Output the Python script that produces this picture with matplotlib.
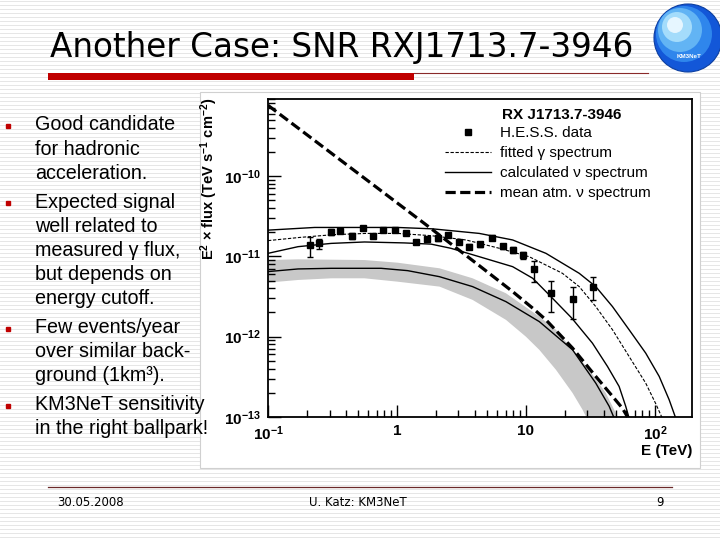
import numpy as np
import matplotlib
matplotlib.use('Agg')
import matplotlib.pyplot as plt
from matplotlib.lines import Line2D
from matplotlib.patches import Rectangle, Circle
from matplotlib.ticker import FixedLocator, FixedFormatter, LogLocator, NullFormatter

plt.rcParams['font.family'] = ['Liberation Sans', 'DejaVu Sans']
plt.rcParams['mathtext.fontset'] = 'custom'
plt.rcParams['mathtext.rm'] = 'Liberation Sans'
plt.rcParams['mathtext.bf'] = 'Liberation Sans:bold'
plt.rcParams['mathtext.default'] = 'regular'

# H.E.S.S. points (E in TeV, E^2 x flux)
hess_E = [0.21, 0.248, 0.309, 0.363, 0.447, 0.543, 0.65, 0.785, 0.96, 1.18, 1.41, 1.71, 2.07,
          2.48, 3.01, 3.64, 4.43, 5.42, 6.59, 7.98, 9.53, 11.6, 15.6, 23.0, 33.4]
hess_F = [1.38e-11, 1.45e-11, 2.02e-11, 2.07e-11, 1.81e-11, 2.23e-11, 1.81e-11, 2.12e-11, 2.12e-11,
          1.93e-11, 1.52e-11, 1.64e-11, 1.67e-11, 1.84e-11, 1.52e-11, 1.32e-11, 1.42e-11, 1.71e-11,
          1.34e-11, 1.20e-11, 1.04e-11, 6.9e-12, 3.47e-12, 2.92e-12, 4.2e-12]
hess_lo = [9.9e-12, 1.25e-11, 1.85e-11, 1.95e-11, 1.65e-11, 2.12e-11, 1.72e-11, 2.02e-11, 2.02e-11,
           1.84e-11, 1.42e-11, 1.54e-11, 1.55e-11, 1.72e-11, 1.42e-11, 1.22e-11, 1.32e-11, 1.6e-11,
           1.24e-11, 1.1e-11, 9.4e-12, 4.84e-12, 2.0e-12, 1.65e-12, 2.87e-12]
hess_hi = [1.75e-11, 1.65e-11, 2.2e-11, 2.2e-11, 1.97e-11, 2.35e-11, 1.9e-11, 2.22e-11, 2.22e-11,
           2.03e-11, 1.62e-11, 1.74e-11, 1.8e-11, 1.96e-11, 1.62e-11, 1.42e-11, 1.52e-11, 1.82e-11,
           1.44e-11, 1.3e-11, 1.14e-11, 8.8e-12, 4.94e-12, 4.2e-12, 5.48e-12]

# fitted gamma spectrum
fit_E = [0.1, 0.176, 0.318, 0.577, 1.01, 1.84, 3.43, 6.22, 10.6, 19.2, 25.9, 34.8, 46.9, 63.1,
         84.9, 101, 114]
fit_F = [1.57e-11, 1.72e-11, 1.86e-11, 1.93e-11, 1.93e-11, 1.81e-11, 1.60e-11, 1.26e-11, 9.9e-12,
         6.15e-12, 4.2e-12, 2.37e-12, 1.22e-12, 5.67e-13, 2.64e-13, 1.49e-13, 0.97e-13]

# calculated neutrino spectra (upper, middle, lower)
nu_hi_E = [0.1, 0.23, 1.01, 1.89, 4.35, 7.89, 14.3, 25.9, 34.8, 46.9, 63.1, 84.9, 108, 129, 145]
nu_hi_F = [2.12e-11, 2.29e-11, 2.29e-11, 2.2e-11, 1.93e-11, 1.60e-11, 1.09e-11, 6.15e-12, 4.2e-12,
           2.37e-12, 1.22e-12, 6.24e-13, 3.2e-13, 1.64e-13, 0.97e-13]
nu_mid_E = [0.1, 0.171, 0.309, 0.56, 1.14, 1.84, 2.62, 4.35, 7.89, 11.3, 15.6, 22.7, 32.8, 42.9,
            52.8, 59.4, 63.1]
nu_mid_F = [1.09e-11, 1.32e-11, 1.45e-11, 1.51e-11, 1.47e-11, 1.42e-11, 1.26e-11, 9.9e-12, 7.44e-12,
            5.33e-12, 3.16e-12, 1.70e-12, 8.3e-13, 4.26e-13, 2.40e-13, 1.36e-13, 0.97e-13]
nu_lo_E = [0.1, 0.171, 0.309, 0.753, 1.21, 2.13, 3.86, 7.0, 12.7, 23.0, 34.8, 44.2, 48.3]
nu_lo_F = [6.46e-12, 6.97e-12, 7.1e-12, 7.1e-12, 6.64e-12, 5.59e-12, 4.2e-12, 2.73e-12, 1.54e-12,
           6.86e-13, 2.64e-13, 1.36e-13, 0.97e-13]

# uncertainty band around lower spectrum
band_top_E = [0.1, 0.171, 0.56, 1.01, 2.14, 3.86, 7.0, 12.7, 17.1, 23.0, 30.9, 41.6, 49.8, 52.8]
band_top_F = [9.0e-12, 9.18e-12, 9.0e-12, 8.34e-12, 7.1e-12, 5.33e-12, 3.47e-12, 1.78e-12, 1.22e-12,
              6.86e-13, 3.87e-13, 1.99e-13, 1.12e-13, 0.93e-13]
band_bot_E = [0.1, 0.171, 0.309, 0.56, 1.01, 2.14, 3.86, 7.0, 10.0, 12.7, 17.1, 23.0, 27.5, 30.0]
band_bot_F = [4.71e-12, 5.08e-12, 5.33e-12, 5.33e-12, 4.84e-12, 4.2e-12, 2.87e-12, 1.62e-12, 1.0e-12,
              6.86e-13, 3.87e-13, 1.99e-13, 1.23e-13, 0.93e-13]

# mean atmospheric neutrino spectrum
atm_E = [0.1, 1.63, 4.35, 7.89, 11.3, 14.3, 23.0, 34.8, 46.9, 55.9, 63.1]
atm_F = [7.59e-10, 2.57e-11, 7.66e-12, 3.64e-12, 2.26e-12, 1.62e-12, 7.2e-13, 3.2e-13, 1.81e-13,
         1.29e-13, 0.93e-13]

x_ticks = [0.1, 1, 10, 100]
x_ticklabels = ['$\\mathbf{10^{-1}}$', '1', '10', '$\\mathbf{10^{2}}$']
y_ticks = [1e-13, 1e-12, 1e-11, 1e-10]
y_ticklabels = ['$\\mathbf{10^{-13}}$', '$\\mathbf{10^{-12}}$', '$\\mathbf{10^{-11}}$', '$\\mathbf{10^{-10}}$']

bullets = [
    ["Good candidate", "for hadronic", "acceleration."],
    ["Expected signal", "well related to", "measured \u03b3 flux,", "but depends on", "energy cutoff."],
    ["Few events/year", "over similar back-", "ground (1km\u00b3)."],
    ["KM3NeT sensitivity", "in the right ballpark!"],
]

fig = plt.figure(figsize=(7.2, 5.4), dpi=100)

# slide background in pixel coordinates
bg = fig.add_axes([0, 0, 1, 1], zorder=-5)
bg.set_xlim(0, 720)
bg.set_ylim(540, 0)
bg.axis('off')
for yy in np.arange(1, 540, 4):
    bg.axhline(yy, color='#e6e6e6', lw=0.7, zorder=0)
bg.add_patch(Rectangle((200, 92), 500, 376, facecolor='white', edgecolor='#d0d0d0', lw=0.8, zorder=1))

# title + bars
fig.text(50 / 720, 1 - 47 / 540, "Another Case: SNR RXJ1713.7-3946", fontsize=23.5,
         family='DejaVu Sans', va='center', ha='left', color='black')
bg.add_patch(Rectangle((48, 73), 366, 7, facecolor='#c00000', edgecolor='none', zorder=2))
bg.plot([414, 648], [72.5, 72.5], color='#8a2a2a', lw=0.8, zorder=2)

# logo
bg.add_patch(Circle((688, 38), 34, facecolor='#1357d8', edgecolor='#0d3fa0', lw=0.8, zorder=3))
bg.add_patch(Circle((684, 34), 28, facecolor='#2f86ec', edgecolor='none', zorder=3))
bg.add_patch(Circle((680, 30), 22, facecolor='#62b4f4', edgecolor='none', zorder=3))
bg.add_patch(Circle((677, 27), 15, facecolor='#a4dcfb', edgecolor='none', zorder=3))
bg.add_patch(Circle((675, 25), 8, facecolor='#e6f6ff', edgecolor='none', zorder=3))
bg.text(689, 57, "KM3NeT", fontsize=4.5, color='white', ha='center', va='center',
        fontweight='bold', zorder=4)

# bullet text
line_y = 125
for group in bullets:
    bg.plot(8, line_y + 1, marker='s', ms=2.8, color='#c00000', zorder=5)
    for line in group:
        bg.text(35, line_y, line, fontsize=14.2, ha='left', va='center', zorder=6)
        line_y += 24.2
    line_y += 4.5

# footer
bg.plot([48, 672], [487, 487], color='#6b2a2a', lw=0.9)
bg.text(57, 502, "30.05.2008", fontsize=8.5, family='DejaVu Sans', va='center', ha='left')
bg.text(358, 502, "U. Katz: KM3NeT", fontsize=8.5, family='DejaVu Sans', va='center', ha='center')
bg.text(660, 502, "9", fontsize=8.5, family='DejaVu Sans', va='center', ha='center')

# chart
ax = fig.add_axes([268 / 720, 1 - 417 / 540, 424 / 720, 318 / 540])
ax.set_xscale('log')
ax.set_yscale('log')
ax.set_xlim(0.1, 194)
ax.set_ylim(1e-13, 9.1e-10)

ax.fill(band_top_E + band_bot_E[::-1], band_top_F + band_bot_F[::-1],
        color='#c8c8c8', lw=0, zorder=1)
ax.plot(nu_hi_E, nu_hi_F, color='black', lw=1.0, zorder=3)
ax.plot(nu_mid_E, nu_mid_F, color='black', lw=1.0, zorder=3)
ax.plot(nu_lo_E, nu_lo_F, color='black', lw=1.0, zorder=3)
ax.plot(fit_E, fit_F, color='black', lw=0.8, ls=(0, (3, 1.5)), zorder=3)
ax.plot(atm_E, atm_F, color='black', lw=2.3, ls=(0, (3.2, 1.4)), zorder=4)

hess_E = np.array(hess_E)
hess_F = np.array(hess_F)
yerr = [hess_F - np.array(hess_lo), np.array(hess_hi) - hess_F]
ax.errorbar(hess_E, hess_F, yerr=yerr, fmt='s', color='black', ms=5, capsize=2.5,
            elinewidth=1.0, capthick=1.0, zorder=5)

for s in ax.spines.values():
    s.set_linewidth(1.3)

ax.xaxis.set_major_locator(FixedLocator(x_ticks))
ax.xaxis.set_major_formatter(FixedFormatter(x_ticklabels))
ax.xaxis.set_minor_locator(LogLocator(base=10, subs=np.arange(2, 10)))
ax.xaxis.set_minor_formatter(NullFormatter())
ax.yaxis.set_major_locator(FixedLocator(y_ticks))
ax.yaxis.set_major_formatter(FixedFormatter(y_ticklabels))
ax.yaxis.set_minor_locator(LogLocator(base=10, subs=np.arange(2, 10)))
ax.yaxis.set_minor_formatter(NullFormatter())
ax.tick_params(which='both', direction='in', top=False, right=False, width=1.0)
ax.tick_params(which='major', length=9, labelsize=11, pad=5)
ax.tick_params(which='minor', length=5)
for lab in ax.get_xticklabels() + ax.get_yticklabels():
    lab.set_fontweight('bold')

ax.set_xlabel("E (TeV)", fontsize=11, fontweight='bold', loc='right', labelpad=1)
ax.set_ylabel("E$^2$ \u00d7 flux (TeV s$^{-1}$ cm$^{-2}$)", fontsize=10.5, fontweight='bold', loc='top')
ax.yaxis.set_label_coords(-0.113, 1.005)

# legend
ax.text(0.552, 0.950, "RX J1713.7-3946", transform=ax.transAxes, fontsize=11,
        fontweight='bold', ha='left', va='center')
handles = [
    Line2D([], [], marker='s', ls='none', color='black', ms=5),
    Line2D([], [], color='black', lw=0.8, ls=(0, (3, 1.5))),
    Line2D([], [], color='black', lw=1.0),
    Line2D([], [], color='black', lw=2.3, ls=(0, (3.2, 1.4))),
]
labels = ["H.E.S.S. data", "fitted \u03b3 spectrum", "calculated \u03bd spectrum", "mean atm. \u03bd spectrum"]
ax.legend(handles, labels, loc='upper left', bbox_to_anchor=(0.418, 0.915), frameon=False,
          fontsize=11, handlelength=3.0, handletextpad=0.6, labelspacing=0.4, borderpad=0,
          borderaxespad=0)

fig.savefig('out.png', dpi=100)
